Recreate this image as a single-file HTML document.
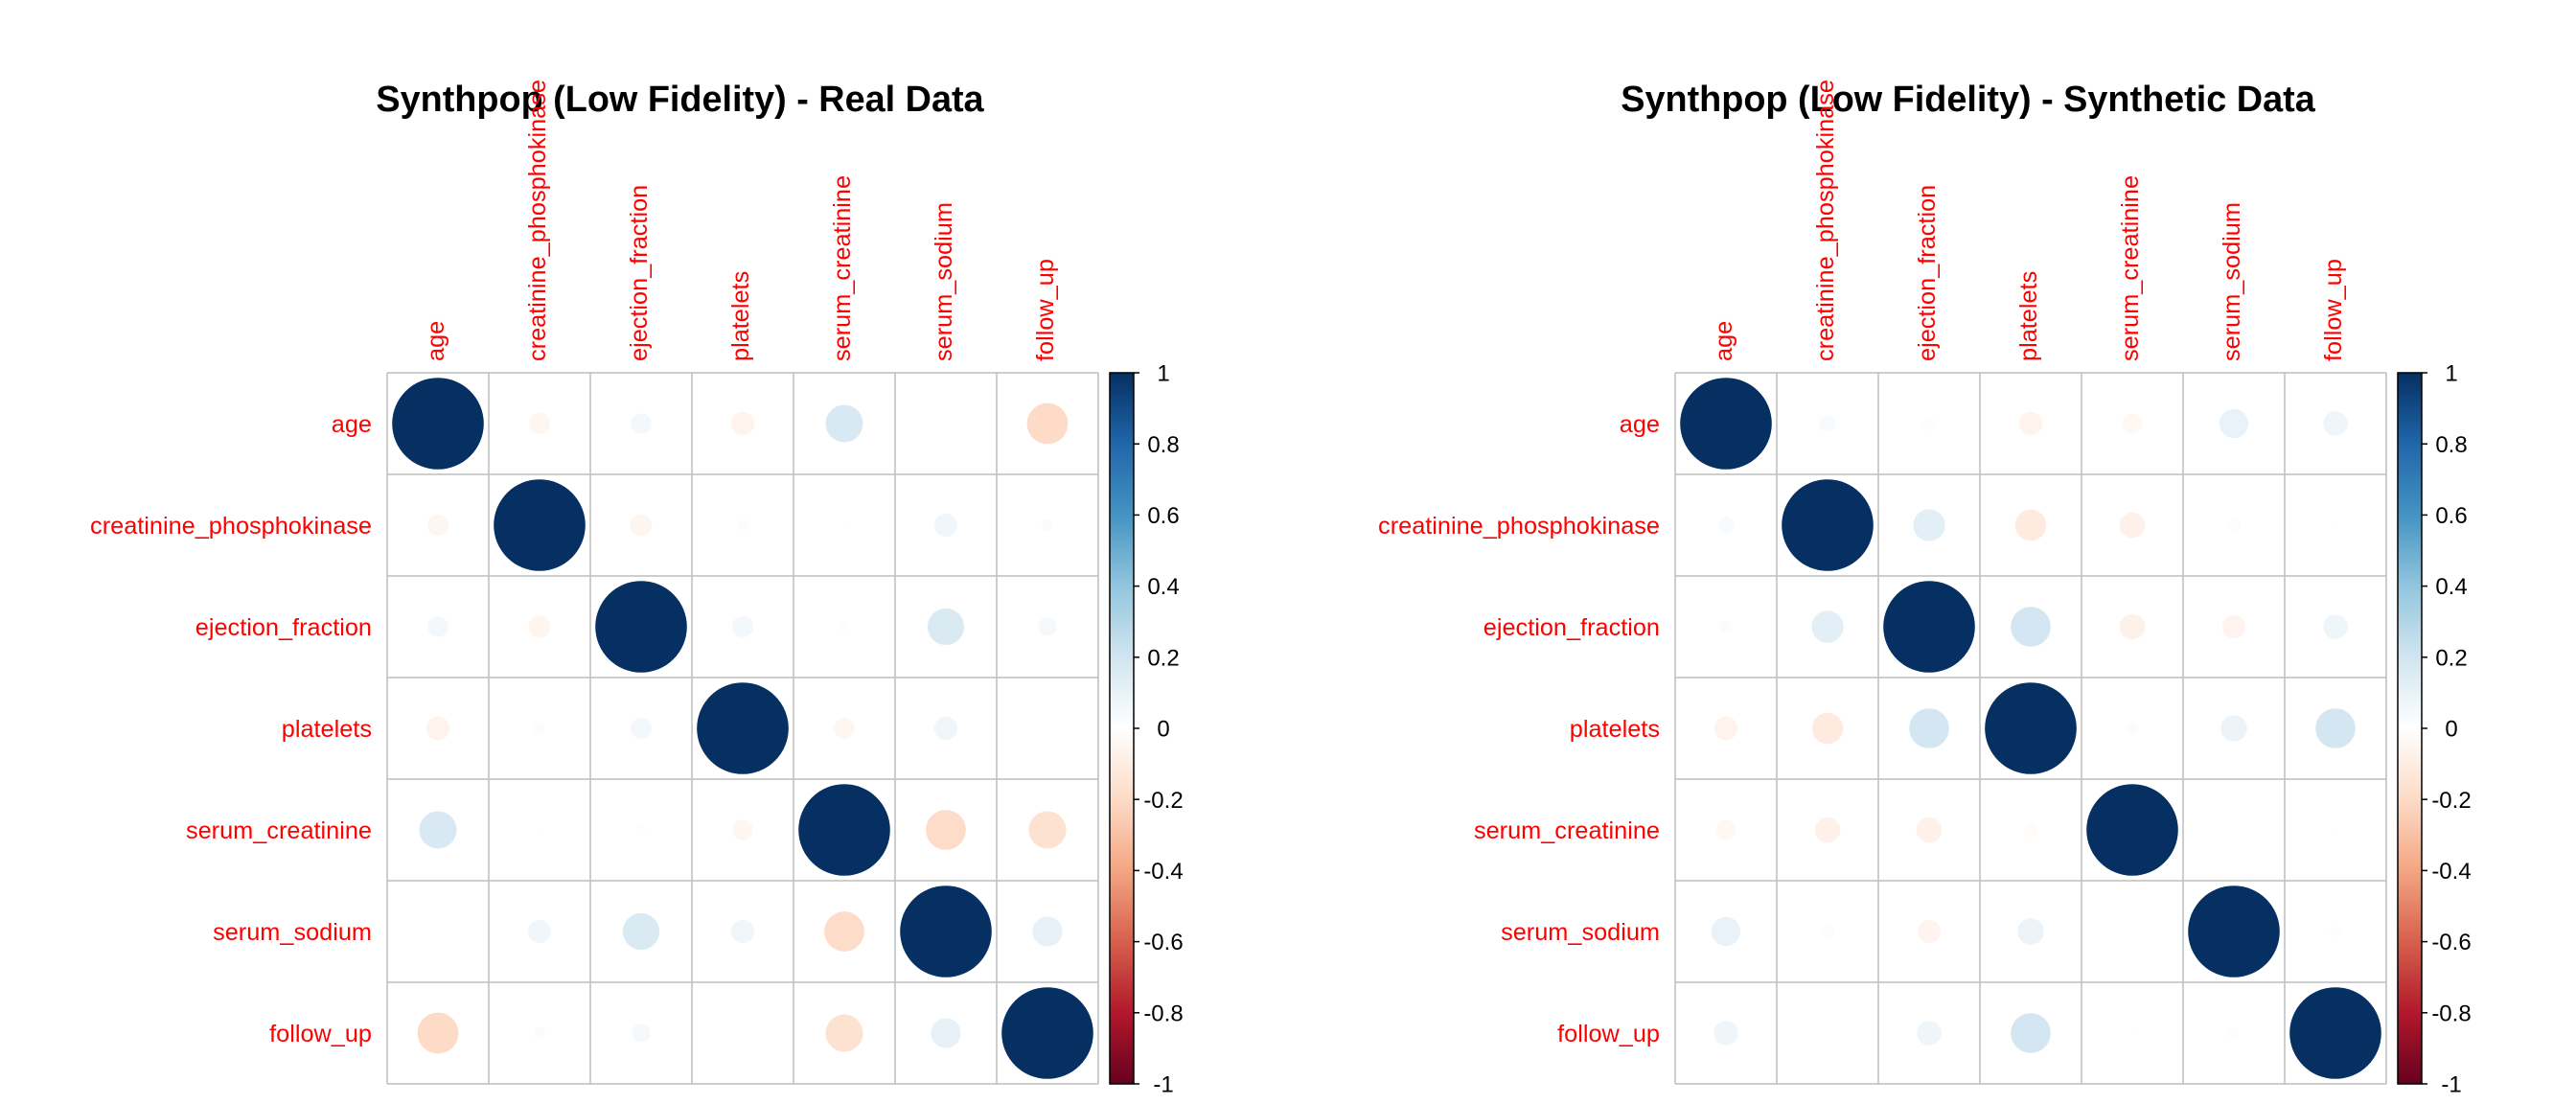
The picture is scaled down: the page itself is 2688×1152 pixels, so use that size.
<!DOCTYPE html>
<html><head><meta charset="utf-8"><style>
html,body{margin:0;padding:0;background:#fff;}
svg{display:block;}
text{font-family:"Liberation Sans",Arial,sans-serif;}
.t{font-size:37.8px;font-weight:bold;fill:#000;}
.cl{font-size:25.3px;fill:#FF0000;}
.rl{font-size:25.3px;fill:#FF0000;text-anchor:end;}
.cb{font-size:24px;fill:#000;text-anchor:middle;}
</style></head><body>
<svg width="2688" height="1152" viewBox="0 0 2688 1152" xmlns="http://www.w3.org/2000/svg">
<defs>
<linearGradient id="g" x1="0" y1="0" x2="0" y2="1">
<stop offset="0" stop-color="#053061"/><stop offset="0.1" stop-color="#2166AC"/><stop offset="0.2" stop-color="#4393C3"/><stop offset="0.3" stop-color="#92C5DE"/><stop offset="0.4" stop-color="#D1E5F0"/><stop offset="0.5" stop-color="#FFFFFF"/><stop offset="0.6" stop-color="#FDDBC7"/><stop offset="0.7" stop-color="#F4A582"/><stop offset="0.8" stop-color="#D6604D"/><stop offset="0.9" stop-color="#B2182B"/><stop offset="1" stop-color="#67001F"/>
</linearGradient>
<g id="frame">
<g stroke="#BEBEBE" stroke-width="1.5" fill="none">
<line x1="404" y1="389" x2="404" y2="1131"/><line x1="510" y1="389" x2="510" y2="1131"/><line x1="616" y1="389" x2="616" y2="1131"/><line x1="722" y1="389" x2="722" y2="1131"/><line x1="828" y1="389" x2="828" y2="1131"/><line x1="934" y1="389" x2="934" y2="1131"/><line x1="1040" y1="389" x2="1040" y2="1131"/><line x1="1146" y1="389" x2="1146" y2="1131"/>
<line x1="404" y1="389" x2="1146" y2="389"/><line x1="404" y1="495" x2="1146" y2="495"/><line x1="404" y1="601" x2="1146" y2="601"/><line x1="404" y1="707" x2="1146" y2="707"/><line x1="404" y1="813" x2="1146" y2="813"/><line x1="404" y1="919" x2="1146" y2="919"/><line x1="404" y1="1025" x2="1146" y2="1025"/><line x1="404" y1="1131" x2="1146" y2="1131"/>
</g>
<g fill="#053061">
<circle cx="457" cy="442" r="47.8"/><circle cx="563" cy="548" r="47.8"/><circle cx="669" cy="654" r="47.8"/><circle cx="775" cy="760" r="47.8"/><circle cx="881" cy="866" r="47.8"/><circle cx="987" cy="972" r="47.8"/><circle cx="1093" cy="1078" r="47.8"/>
</g>
<text class="cl" transform="translate(463,377) rotate(-90)">age</text>
<text class="cl" transform="translate(569,377) rotate(-90)">creatinine_phosphokinase</text>
<text class="cl" transform="translate(675,377) rotate(-90)">ejection_fraction</text>
<text class="cl" transform="translate(781,377) rotate(-90)">platelets</text>
<text class="cl" transform="translate(887,377) rotate(-90)">serum_creatinine</text>
<text class="cl" transform="translate(993,377) rotate(-90)">serum_sodium</text>
<text class="cl" transform="translate(1099,377) rotate(-90)">follow_up</text>
<text class="rl" x="388" y="451">age</text>
<text class="rl" x="388" y="557">creatinine_phosphokinase</text>
<text class="rl" x="388" y="663">ejection_fraction</text>
<text class="rl" x="388" y="769">platelets</text>
<text class="rl" x="388" y="875">serum_creatinine</text>
<text class="rl" x="388" y="981">serum_sodium</text>
<text class="rl" x="388" y="1087">follow_up</text>
<rect x="1158" y="389" width="25" height="742" fill="url(#g)" stroke="#000" stroke-width="1.5"/>
<g stroke="#000" stroke-width="1.5">
<line x1="1183" y1="389" x2="1189" y2="389"/><line x1="1183" y1="463.2" x2="1189" y2="463.2"/><line x1="1183" y1="537.4" x2="1189" y2="537.4"/><line x1="1183" y1="611.6" x2="1189" y2="611.6"/><line x1="1183" y1="685.8" x2="1189" y2="685.8"/><line x1="1183" y1="760" x2="1189" y2="760"/><line x1="1183" y1="834.2" x2="1189" y2="834.2"/><line x1="1183" y1="908.4" x2="1189" y2="908.4"/><line x1="1183" y1="982.6" x2="1189" y2="982.6"/><line x1="1183" y1="1056.8" x2="1189" y2="1056.8"/><line x1="1183" y1="1131" x2="1189" y2="1131"/>
</g>
<text class="cb" x="1214" y="397.6">1</text>
<text class="cb" x="1214" y="471.8">0.8</text>
<text class="cb" x="1214" y="546">0.6</text>
<text class="cb" x="1214" y="620.2">0.4</text>
<text class="cb" x="1214" y="694.4">0.2</text>
<text class="cb" x="1214" y="768.6">0</text>
<text class="cb" x="1214" y="842.8">-0.2</text>
<text class="cb" x="1214" y="917">-0.4</text>
<text class="cb" x="1214" y="991.2">-0.6</text>
<text class="cb" x="1214" y="1065.4">-0.8</text>
<text class="cb" x="1214" y="1139.6">-1</text>
</g>
</defs>

<rect width="2688" height="1152" fill="#fff"/>

<!-- LEFT PANEL: Real Data -->
<text class="t" x="709.5" y="116" text-anchor="middle">Synthpop (Low Fidelity) - Real Data</text>
<g>
<circle cx="563" cy="442" r="11.0" fill="#FEF6F0"/><circle cx="457" cy="548" r="11.0" fill="#FEF6F0"/>
<circle cx="669" cy="442" r="10.7" fill="#F4F8FB"/><circle cx="457" cy="654" r="10.7" fill="#F4F8FB"/>
<circle cx="775" cy="442" r="12.2" fill="#FEF3ED"/><circle cx="457" cy="760" r="12.2" fill="#FEF3ED"/>
<circle cx="881" cy="442" r="19.5" fill="#D9E9F3"/><circle cx="457" cy="866" r="19.5" fill="#D9E9F3"/>
<circle cx="1093" cy="442" r="21.4" fill="#FDDBC7"/><circle cx="457" cy="1078" r="21.4" fill="#FDDBC7"/>
<circle cx="669" cy="548" r="11.5" fill="#FEF5EF"/><circle cx="563" cy="654" r="11.5" fill="#FEF5EF"/>
<circle cx="775" cy="548" r="6.0" fill="#FBFCFC"/><circle cx="563" cy="760" r="6.0" fill="#FBFCFC"/>
<circle cx="881" cy="548" r="2.6" fill="#FDFEFE"/><circle cx="563" cy="866" r="2.6" fill="#FDFEFE"/>
<circle cx="987" cy="548" r="12.1" fill="#F0F7FA"/><circle cx="563" cy="972" r="12.1" fill="#F0F7FA"/>
<circle cx="1093" cy="548" r="5.9" fill="#FBFBFB"/><circle cx="563" cy="1078" r="5.9" fill="#FBFBFB"/>
<circle cx="775" cy="654" r="11.0" fill="#F3F8FB"/><circle cx="669" cy="760" r="11.0" fill="#F3F8FB"/>
<circle cx="881" cy="654" r="5.2" fill="#FCFDFE"/><circle cx="669" cy="866" r="5.2" fill="#FCFDFE"/>
<circle cx="987" cy="654" r="19.1" fill="#DAEAF3"/><circle cx="669" cy="972" r="19.1" fill="#DAEAF3"/>
<circle cx="1093" cy="654" r="9.8" fill="#F5F9FC"/><circle cx="669" cy="1078" r="9.8" fill="#F5F9FC"/>
<circle cx="881" cy="760" r="10.7" fill="#FEF6F1"/><circle cx="775" cy="866" r="10.7" fill="#FEF6F1"/>
<circle cx="987" cy="760" r="12.2" fill="#F0F7FA"/><circle cx="775" cy="972" r="12.2" fill="#F0F7FA"/>
<circle cx="1093" cy="760" r="2.1" fill="#FEFEFE"/>
<circle cx="987" cy="866" r="20.9" fill="#FDDCC9"/><circle cx="881" cy="972" r="20.9" fill="#FDDCC9"/>
<circle cx="1093" cy="866" r="19.5" fill="#FDE1D1"/><circle cx="881" cy="1078" r="19.5" fill="#FDE1D1"/>
<circle cx="1093" cy="972" r="15.6" fill="#E7F1F7"/><circle cx="987" cy="1078" r="15.6" fill="#E7F1F7"/>
</g>
<use href="#frame"/>

<!-- RIGHT PANEL: Synthetic Data -->
<text class="t" x="2053.5" y="116" text-anchor="middle">Synthpop (Low Fidelity) - Synthetic Data</text>
<g transform="translate(1344,0)">
<circle cx="563" cy="442" r="8.7" fill="#F7FBFD"/><circle cx="457" cy="548" r="8.7" fill="#F7FBFD"/>
<circle cx="669" cy="442" r="6.6" fill="#FEFBF9"/><circle cx="457" cy="654" r="6.6" fill="#FCFCFC"/>
<circle cx="775" cy="442" r="12.2" fill="#FEF3ED"/><circle cx="457" cy="760" r="12.2" fill="#FEF3ED"/>
<circle cx="881" cy="442" r="10.3" fill="#FEF7F2"/><circle cx="457" cy="866" r="10.3" fill="#FEF7F2"/>
<circle cx="987" cy="442" r="15.1" fill="#E8F2F8"/><circle cx="457" cy="972" r="15.1" fill="#E8F2F8"/>
<circle cx="1093" cy="442" r="12.8" fill="#EEF6FA"/><circle cx="457" cy="1078" r="12.8" fill="#EEF6FA"/>
<circle cx="669" cy="548" r="16.7" fill="#E3EFF6"/><circle cx="563" cy="654" r="16.7" fill="#E3EFF6"/>
<circle cx="775" cy="548" r="16.2" fill="#FEEADF"/><circle cx="563" cy="760" r="16.2" fill="#FEEADF"/>
<circle cx="881" cy="548" r="13.3" fill="#FEF1E9"/><circle cx="563" cy="866" r="13.3" fill="#FEF1E9"/>
<circle cx="987" cy="548" r="6.8" fill="#FAFCFD"/><circle cx="563" cy="972" r="6.8" fill="#FAFCFD"/>
<circle cx="1093" cy="548" r="2.6" fill="#FEFEFE"/>
<circle cx="775" cy="654" r="20.8" fill="#D3E6F1"/><circle cx="669" cy="760" r="20.8" fill="#D3E6F1"/>
<circle cx="881" cy="654" r="13.3" fill="#FEF1E9"/><circle cx="669" cy="866" r="13.3" fill="#FEF1E9"/>
<circle cx="987" cy="654" r="12.0" fill="#FEF3EE"/><circle cx="669" cy="972" r="12.0" fill="#FEF3EE"/>
<circle cx="1093" cy="654" r="12.8" fill="#EEF6FA"/><circle cx="669" cy="1078" r="12.8" fill="#EEF6FA"/>
<circle cx="881" cy="760" r="6.9" fill="#FEFBF9"/><circle cx="775" cy="866" r="6.9" fill="#FEFBF9"/>
<circle cx="987" cy="760" r="13.8" fill="#ECF4F9"/><circle cx="775" cy="972" r="13.8" fill="#ECF4F9"/>
<circle cx="1093" cy="760" r="20.8" fill="#D3E6F1"/><circle cx="775" cy="1078" r="20.8" fill="#D3E6F1"/>
<circle cx="1093" cy="866" r="2.1" fill="#FEFEFE"/><circle cx="881" cy="1078" r="2.1" fill="#FEFEFE"/>
<circle cx="1093" cy="972" r="5.9" fill="#FBFDFE"/><circle cx="987" cy="1078" r="5.9" fill="#FBFDFE"/>
<use href="#frame"/>
</g>
</svg>
</body></html>
